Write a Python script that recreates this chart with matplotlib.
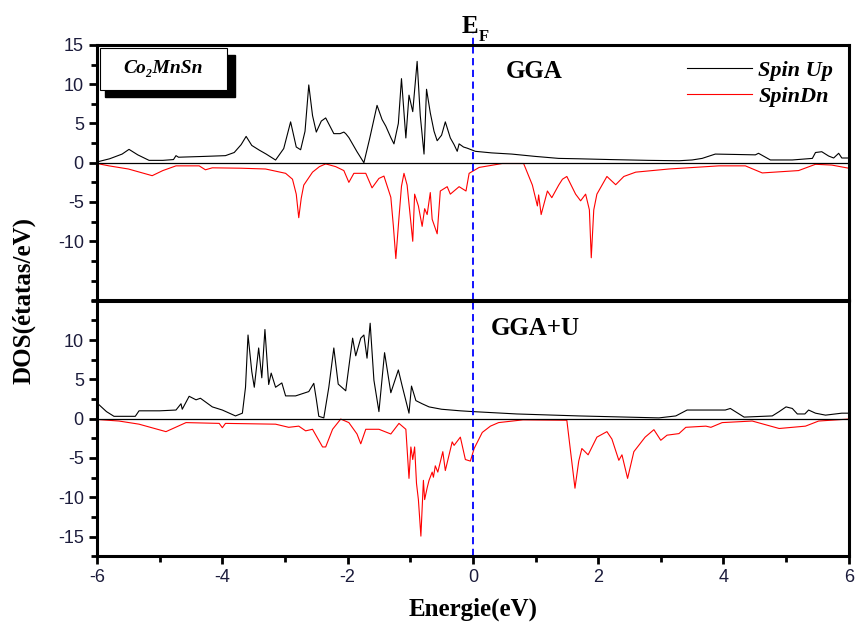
import numpy as np
import matplotlib
matplotlib.use('Agg')
import matplotlib.pyplot as plt
from matplotlib.patches import Rectangle

plt.rcParams['axes.unicode_minus'] = False

# DOS du Co2MnSn (lecture approximative de la figure)
up_gga = [(-6.0, 0.1), (-5.8, 0.5), (-5.6, 1.1), (-5.49, 1.7), (-5.35, 1.0), (-5.17, 0.3),
          (-4.95, 0.3), (-4.78, 0.4), (-4.74, 0.9), (-4.70, 0.7), (-4.3, 0.8), (-3.95, 0.9),
          (-3.81, 1.3), (-3.70, 2.3), (-3.62, 3.35), (-3.53, 2.2), (-3.41, 1.6), (-3.3, 1.1),
          (-3.15, 0.34), (-3.02, 1.8), (-2.91, 5.2), (-2.82, 2.0), (-2.75, 1.65), (-2.68, 4.0),
          (-2.62, 9.9), (-2.56, 6.0), (-2.50, 3.9), (-2.42, 5.3), (-2.35, 5.7), (-2.22, 3.7),
          (-2.12, 3.7), (-2.06, 3.9), (-2.03, 3.7), (-1.98, 3.2), (-1.85, 1.4), (-1.74, 0.0),
          (-1.65, 3.0), (-1.53, 7.3), (-1.45, 5.5), (-1.39, 4.65), (-1.31, 3.2), (-1.26, 2.4),
          (-1.19, 5.0), (-1.14, 10.7), (-1.07, 3.15), (-1.02, 8.6), (-0.96, 6.5), (-0.89, 12.9),
          (-0.84, 6.0), (-0.78, 1.1), (-0.74, 9.35), (-0.68, 6.35), (-0.62, 4.0), (-0.57, 2.8),
          (-0.50, 3.5), (-0.44, 5.2), (-0.36, 3.15), (-0.30, 2.3), (-0.25, 1.45), (-0.22, 2.4),
          (-0.15, 2.0), (-0.09, 1.85), (0.04, 1.45), (0.3, 1.25), (0.62, 1.1), (1.0, 0.8),
          (1.37, 0.55), (1.69, 0.5), (2.2, 0.4), (2.8, 0.3), (3.29, 0.25), (3.5, 0.35),
          (3.66, 0.55), (3.87, 1.1), (4.2, 1.05), (4.51, 1.0), (4.56, 1.2), (4.75, 0.35),
          (5.1, 0.35), (5.42, 0.55), (5.47, 1.3), (5.57, 1.4), (5.68, 0.85), (5.76, 0.6),
          (5.84, 1.2), (5.89, 0.6), (6.0, 0.6)]

dn_gga = [(-6.0, -0.1), (-5.81, -0.4), (-5.5, -0.8), (-5.12, -1.65), (-4.95, -1.0), (-4.74, -0.4),
          (-4.37, -0.4), (-4.27, -0.9), (-4.16, -0.65), (-3.7, -0.7), (-3.31, -0.8), (-2.99, -1.35),
          (-2.88, -2.1), (-2.82, -4.0), (-2.78, -7.0), (-2.74, -4.5), (-2.70, -2.85), (-2.56, -1.2),
          (-2.45, -0.5), (-2.35, -0.15), (-2.19, -0.5), (-2.06, -1.0), (-1.98, -2.5), (-1.90, -1.35),
          (-1.71, -1.35), (-1.61, -3.2), (-1.50, -2.0), (-1.42, -1.7), (-1.31, -4.4), (-1.27, -8.0),
          (-1.23, -12.2), (-1.18, -7.0), (-1.14, -3.0), (-1.10, -1.35), (-1.05, -2.85), (-0.96, -10.0),
          (-0.93, -4.0), (-0.87, -5.5), (-0.81, -8.1), (-0.77, -5.85), (-0.73, -6.6), (-0.68, -3.8),
          (-0.65, -7.2), (-0.57, -9.05), (-0.52, -3.6), (-0.41, -3.05), (-0.36, -4.0), (-0.22, -3.05),
          (-0.11, -3.6), (-0.06, -1.35), (0.10, -0.6), (0.47, -0.1), (0.81, -0.1), (0.95, -2.85),
          (1.03, -5.5), (1.05, -4.1), (1.09, -6.6), (1.19, -3.6), (1.26, -4.45), (1.37, -2.85),
          (1.43, -2.1), (1.50, -1.75), (1.64, -4.0), (1.72, -4.85), (1.80, -4.0), (1.86, -6.0),
          (1.89, -12.1), (1.93, -6.0), (1.98, -4.0), (2.14, -1.75), (2.28, -2.8), (2.41, -1.75),
          (2.6, -1.2), (3.13, -0.8), (3.93, -0.4), (4.35, -0.4), (4.62, -1.3), (5.2, -1.0),
          (5.47, -0.2), (5.73, -0.3), (6.0, -0.7)]

up_ggau = [(-6.0, 2.0), (-5.85, 0.9), (-5.73, 0.3), (-5.39, 0.3), (-5.33, 1.0), (-5.0, 1.0),
           (-4.74, 1.1), (-4.66, 1.9), (-4.64, 1.2), (-4.53, 2.85), (-4.42, 2.4), (-4.35, 2.6),
           (-4.16, 1.5), (-4.0, 1.1), (-3.79, 0.35), (-3.68, 0.7), (-3.63, 4.0), (-3.59, 10.65),
           (-3.53, 6.0), (-3.49, 4.0), (-3.42, 9.0), (-3.37, 5.2), (-3.32, 11.35), (-3.26, 4.35),
           (-3.22, 5.8), (-3.15, 4.0), (-3.05, 4.55), (-2.99, 2.9), (-2.83, 2.9), (-2.62, 3.45),
           (-2.54, 4.5), (-2.50, 2.5), (-2.46, 0.3), (-2.38, 0.1), (-2.3, 4.0), (-2.22, 9.0),
           (-2.15, 4.4), (-2.03, 3.55), (-1.92, 10.25), (-1.87, 8.0), (-1.79, 10.25), (-1.74, 10.65),
           (-1.69, 7.7), (-1.64, 12.15), (-1.58, 4.9), (-1.50, 0.9), (-1.41, 8.4), (-1.31, 3.3),
           (-1.19, 6.2), (-1.13, 4.2), (-1.02, 0.7), (-0.98, 4.15), (-0.91, 2.3), (-0.81, 1.9),
           (-0.70, 1.5), (-0.5, 1.2), (-0.2, 1.0), (0.0, 0.9), (0.7, 0.6), (1.69, 0.35),
           (2.97, 0.1), (3.24, 0.35), (3.42, 1.1), (4.03, 1.1), (4.11, 1.3), (4.33, 0.2),
           (4.78, 0.35), (4.89, 0.9), (5.0, 1.5), (5.1, 1.3), (5.18, 0.6), (5.3, 0.6),
           (5.36, 1.1), (5.47, 0.7), (5.63, 0.45), (5.89, 0.7), (6.0, 0.7)]

dn_ggau = [(-6.0, -0.1), (-5.65, -0.3), (-5.33, -0.7), (-4.90, -1.65), (-4.58, -0.5), (-4.05, -0.6),
           (-4.0, -1.15), (-3.95, -0.6), (-3.15, -0.7), (-2.94, -1.1), (-2.78, -0.95), (-2.67, -1.55),
           (-2.56, -1.35), (-2.40, -3.6), (-2.35, -3.6), (-2.24, -1.35), (-2.11, -0.05), (-1.98, -0.5),
           (-1.85, -1.95), (-1.79, -3.2), (-1.71, -1.35), (-1.5, -1.35), (-1.31, -1.95), (-1.18, -0.6),
           (-1.07, -1.35), (-1.02, -7.6), (-0.99, -3.6), (-0.96, -5.2), (-0.93, -3.6), (-0.90, -8.25),
           (-0.87, -10.3), (-0.83, -14.95), (-0.79, -7.85), (-0.77, -10.3), (-0.73, -8.8), (-0.70, -7.85),
           (-0.65, -6.8), (-0.63, -7.45), (-0.60, -6.0), (-0.56, -6.8), (-0.48, -4.2), (-0.44, -6.6),
           (-0.33, -2.95), (-0.30, -3.4), (-0.20, -2.35), (-0.12, -5.2), (-0.04, -5.4), (0.02, -3.8),
           (0.15, -1.75), (0.28, -0.95), (0.41, -0.5), (0.8, -0.15), (1.50, -0.2), (1.56, -4.2),
           (1.63, -8.85), (1.69, -5.4), (1.74, -3.8), (1.84, -4.6), (1.98, -2.35), (2.14, -1.65),
           (2.22, -2.6), (2.33, -5.3), (2.38, -4.6), (2.47, -7.6), (2.57, -4.2), (2.75, -2.35),
           (2.89, -1.4), (3.0, -2.75), (3.1, -2.1), (3.29, -1.9), (3.40, -1.1), (3.72, -0.95),
           (3.80, -1.1), (3.98, -0.5), (4.46, -0.3), (4.89, -1.25), (5.31, -0.95), (5.52, -0.3),
           (6.0, -0.05)]

panel_labels = ["GGA", "GGA+U"]
legend_labels = ["Spin Up", "SpinDn"]
top_yticks = [15, 10, 5, 0, -5, -10]
bot_yticks = [10, 5, 0, -5, -10, -15]
xticks = [-6, -4, -2, 0, 2, 4, 6]

serif = 'Liberation Serif'
sans = 'Liberation Sans'

fig = plt.figure(figsize=(8.59, 6.32), dpi=100)
ax1 = fig.add_axes([0.113, 0.525, 0.875, 0.404])
ax2 = fig.add_axes([0.113, 0.120, 0.875, 0.404])

ylims = [(-13.8, 15), (-17.2, 13.9)]
yticks = [top_yticks, bot_yticks]
data = [(up_gga, dn_gga), (up_ggau, dn_ggau)]

for i, ax in enumerate([ax1, ax2]):
    up = np.array(data[i][0])
    dn = np.array(data[i][1])
    ax.plot(up[:, 0], up[:, 1], color='black', lw=0.8, label=legend_labels[0])
    ax.plot(dn[:, 0], dn[:, 1], color='red', lw=0.8, label=legend_labels[1])
    ax.axhline(0, color='black', lw=0.9)
    ax.axvline(0, color='blue', lw=1.3, ls=(0, (4, 2.5)))
    ax.set_xlim(-6, 6)
    ax.set_ylim(*ylims[i])
    ax.set_yticks(yticks[i])
    ax.set_yticks(np.arange(-17.5, 15.1, 2.5), minor=True)
    ax.set_xticks(xticks)
    ax.set_xticks(np.arange(-5, 6, 2), minor=True)
    for s in ax.spines.values():
        s.set_linewidth(2.2)
    ax.tick_params(which='major', direction='out', length=6, width=2, labelsize=13,
                   labelcolor='#1c1c3c')
    ax.tick_params(which='minor', direction='out', length=4, width=2)
    for lab in ax.get_yticklabels() + ax.get_xticklabels():
        lab.set_family(sans)
    ax.text(0.97 if i == 0 else 1.0, 11.6 if i == 0 else 11.5, panel_labels[i],
            fontfamily=serif, fontweight='bold', fontsize=18, ha='center', va='center')

ax1.tick_params(axis='x', which='both', bottom=False, labelbottom=False)

# ligne E_F au-dessus du cadre
ax1.plot([0, 0], [15, 16.6], color='blue', lw=1.3, ls=(0, (4, 2.5)), clip_on=False)
ax1.text(-0.05, 17.3, "E", fontfamily=serif, fontweight='bold', fontsize=18,
         ha='center', va='center', clip_on=False)
ax1.text(0.17, 16.0, "F", fontfamily=serif, fontweight='bold', fontsize=12,
         ha='center', va='center', clip_on=False)

leg = ax1.legend(loc='upper right', frameon=False, handlelength=2.9, handletextpad=0.3,
                 labelspacing=0.25, borderaxespad=0.3,
                 prop={'family': serif, 'style': 'italic', 'weight': 'bold', 'size': 16})

# boite Co2MnSn avec ombre
ax1.add_patch(Rectangle((0.011, 0.797), 0.173, 0.163, transform=ax1.transAxes,
                        facecolor='black', edgecolor='black', zorder=5, clip_on=False))
ax1.add_patch(Rectangle((0.004, 0.824), 0.169, 0.164, transform=ax1.transAxes,
                        facecolor='white', edgecolor='black', lw=0.8, zorder=6, clip_on=False))
ax1.text(0.088, 0.906, "Co₂MnSn", transform=ax1.transAxes, fontfamily=[serif, 'DejaVu Serif'],
         fontstyle='italic', fontweight='bold', fontsize=14, ha='center', va='center', zorder=7)

ax2.set_xlabel("Energie(eV)", fontfamily=serif, fontweight='bold', fontsize=18, labelpad=8)
fig.text(0.028, 0.525, "DOS(étatas/eV)", rotation=90, fontfamily=serif, fontweight='bold',
         fontsize=18, ha='center', va='center')

fig.savefig('out.png', dpi=100)
